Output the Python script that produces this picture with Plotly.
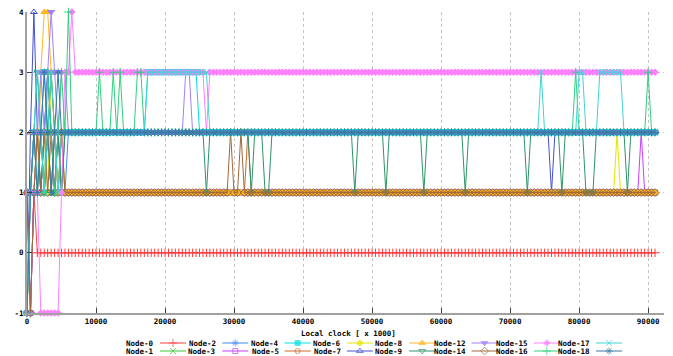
import plotly.graph_objects as go

# ---------------- data ----------------
CLOCK_STEP = 500          # local clock sampling interval
X_TICKS = [0, 10000, 20000, 30000, 40000, 50000, 60000, 70000, 80000, 90000]
Y_TICKS = [-1, 0, 1, 2, 3, 4]
X_TITLE = "Local clock [ x 1000]"

NODE_NAMES = ["Node-0", "Node-1", "Node-2", "Node-3", "Node-4", "Node-5", "Node-6",
              "Node-7", "Node-8", "Node-9", "Node-12", "Node-14", "Node-15",
              "Node-16", "Node-17", "Node-18"]

# each node: first samples listed one by one, then (value, repeat count) runs
n0_head = [1, -1, 1]
n0_runs = [(0, 180)]
n1_head = [-1, 1, 2, 1, 2, 1, 2, 1, 1, 2, 1, 1, 1, 1]
n1_runs = [(1, 169)]
n2_head = [-1, -1, 1, 2, 1, 2, 3, 2, 1, 2, 2, 1, 2, 2]
n2_runs = [(2, 169)]
n3_head = [1, -1, 1, 1, 2, 1, 2, 1, 2, 1, 1, 1, 1, 1]
n3_runs = [(1, 164), (2, 1), (1, 4)]
n4_head = [-1, 1, 2, 1, 2, 3, 2, 1, 2, 1, 2, 2, 2, 2]
n4_runs = [(2, 21), (3, 15), (2, 133)]
n5_head = [1, -1, 1, 2, 1, 1, 2, 1, 2, 1, 1, 1, 1, 1]
n5_runs = [(1, 50), (2, 1), (1, 118)]
n6_head = [-1, 1, 1, 2, 1, 2, 1, 3, 2, 1, 2, 1, 1, 1]
n6_runs = [(1, 157), (2, 1), (1, 11)]
n7_head = [-1, 2, 4, 2, 1, 2, 3, 2, 1, 2, 1, 2, 2, 2]
n7_runs = [(2, 138), (1, 1), (2, 30)]
n8_head = [-1, 1, 2, 1, 3, 4, 4, 3, 2, 1, 2, 1, 1, 1]
n8_runs = [(1, 169)]
n9_head = [-1, 1, 2, 3, 2, 1, 2, 3, 2, 2, 1, 2, 2, 2]
n9_runs = [(2, 38), (1, 1), (2, 12), (1, 1), (2, 3), (1, 2), (2, 24), (1, 1), (2, 8),
           (1, 1), (2, 10), (1, 1), (2, 11), (1, 1), (2, 17), (1, 1), (2, 9), (1, 1),
           (2, 6), (1, 3), (2, 9), (1, 1), (2, 8)]
n12_head = [-1, -1, 1, 2, 3, 2, 3, 4, 3, 2, 3, 3, 2, 2]
n12_runs = [(2, 32), (3, 2), (2, 135)]
n14_head = [1, -1, 1, 2, 1, 2, 1, 2, 1, 1, 2, 1, 1, 1]
n14_runs = [(1, 45), (2, 1), (1, 2), (2, 1), (1, 120)]
n15_head = [-1, 1, 2, 1, -1, -1, -1, -1, -1, -1, 1, 3, 3, 4]
n15_runs = [(3, 38), (2, 1), (3, 130)]
n16_head = [-1, 1, 2, 1, 2, 1, 3, 2, 1, 2, 3, 2, 4, 2]
n16_runs = [(2, 7), (3, 1), (2, 3), (3, 1), (2, 1), (3, 1), (2, 4), (3, 2), (2, 125),
            (3, 1), (2, 20), (3, 1), (2, 2)]
n17_head = [-1, 1, 2, 3, 2, 1, 2, 3, 2, 1, 2, 2, 2, 2]
n17_runs = [(2, 21), (3, 18), (2, 96), (3, 1), (2, 10), (3, 2), (2, 4), (3, 7), (2, 10)]
n18_head = [-1, 1, 2, 1, 2, 3, 2, 1, 2, 3, 2, 2, 2, 2]
n18_runs = [(2, 169)]

HEADS = [n0_head, n1_head, n2_head, n3_head, n4_head, n5_head, n6_head, n7_head,
         n8_head, n9_head, n12_head, n14_head, n15_head, n16_head, n17_head, n18_head]
RUNS = [n0_runs, n1_runs, n2_runs, n3_runs, n4_runs, n5_runs, n6_runs, n7_runs,
        n8_runs, n9_runs, n12_runs, n14_runs, n15_runs, n16_runs, n17_runs, n18_runs]

# ---------------- styles ----------------
COLORS = ["#ff3c3c", "#3cc83c", "#3d8cff", "#c040ff", "#00e0e0", "#d0682c",
          "#e4e400", "#4450d0", "#ffb820", "#2e9468", "#a080ff", "#a0683a",
          "#ff80ff", "#30d080", "#40d4d4", "#3a78a8"]
SYMBOLS = ["cross-thin", "x-thin", "asterisk", "square-open", "square",
           "circle-open", "circle", "triangle-up-open", "triangle-up",
           "triangle-down-open", "triangle-down", "diamond-open", "diamond",
           "cross-thin", "x-thin", "asterisk"]
SIZES = [6, 6, 6, 5, 5, 5, 5, 6, 6, 6, 6, 6, 5, 6, 6, 6]
FONT = dict(family="DejaVu Sans Mono", size=7.5, color="#000000", weight="bold")

W, H = 673, 356
ML, MR, MT, MB = 27, 9, 12, 0
PLOT_BOTTOM_PX = 313
LEG_TOP_PX = 326


def expand(head, runs):
    vals = list(head)
    for v, n in runs:
        vals.extend([v] * n)
    return vals


fig = go.Figure()

for name, head, runs, col, sym, sz in zip(NODE_NAMES, HEADS, RUNS, COLORS, SYMBOLS, SIZES):
    vals = expand(head, runs)
    xs = [CLOCK_STEP * i for i in range(len(vals))]
    fig.add_trace(go.Scatter(
        x=xs, y=vals, mode="lines+markers", name=name, showlegend=False,
        line=dict(color=col, width=1),
        marker=dict(symbol=sym, size=sz, color=col, line=dict(color=col, width=1)),
        cliponaxis=False, xaxis="x", yaxis="y"))

# ---------------- gnuplot-style key (text left, sample right) ----------------
plot_h = H - MT - MB
col_pitch = 62.3
first_right = 156
rows_px = [343, 351]
annotations = []
for k, (name, col, sym, sz) in enumerate(zip(NODE_NAMES, COLORS, SYMBOLS, SIZES)):
    c, r = k // 2, k % 2
    right = first_right + col_pitch * c
    y = rows_px[r]
    x0, x1 = right + 4, right + 30
    fig.add_trace(go.Scatter(
        x=[x0, (x0 + x1) / 2, x1], y=[y, y, y], mode="lines+markers",
        showlegend=False, hoverinfo="skip",
        line=dict(color=col, width=1),
        marker=dict(symbol=sym, size=[0, sz, 0], color=col, line=dict(color=col, width=1)),
        cliponaxis=False, xaxis="x2", yaxis="y2"))
    annotations.append(dict(x=right, y=y, xref="x2", yref="y2", text=name,
                            showarrow=False, xanchor="right", yanchor="middle",
                            font=FONT))

annotations.append(dict(x=348, y=333, xref="x2", yref="y2", text=X_TITLE,
                        showarrow=False, xanchor="center", yanchor="middle",
                        font=FONT))

axis_common = dict(
    showline=True, linecolor="#a0a0a0", linewidth=2,
    showgrid=True, gridcolor="#c4c4c4", griddash="dot", gridwidth=1,
    zeroline=False, ticks="inside", ticklen=5, tickcolor="#404040",
    tickfont=FONT, fixedrange=True, automargin=False)

main_bottom = (H - MB - PLOT_BOTTOM_PX) / plot_h
leg_top = (H - MB - LEG_TOP_PX) / plot_h

fig.update_layout(
    template="none",
    width=W, height=H, autosize=False,
    margin=dict(l=ML, r=MR, t=MT, b=MB, pad=0, autoexpand=False),
    paper_bgcolor="white", plot_bgcolor="white",
    showlegend=False,
    xaxis=dict(domain=[0, 1], range=[0, 92300], tickvals=X_TICKS,
               ticktext=[str(v) for v in X_TICKS], anchor="y", **axis_common),
    yaxis=dict(domain=[main_bottom, 1], range=[-1, 4], tickvals=Y_TICKS,
               ticktext=[str(v) for v in Y_TICKS], anchor="x", **axis_common),
    xaxis2=dict(domain=[0, 1], range=[ML, W - MR], visible=False, anchor="y2",
                fixedrange=True, automargin=False),
    yaxis2=dict(domain=[0, leg_top], range=[H - MB, LEG_TOP_PX], visible=False,
                anchor="x2", fixedrange=True, automargin=False),
    annotations=annotations,
)

fig.write_html("out.html", config={"displayModeBar": False},
               post_script="document.body.style.margin='0';document.body.style.overflow='hidden';")
